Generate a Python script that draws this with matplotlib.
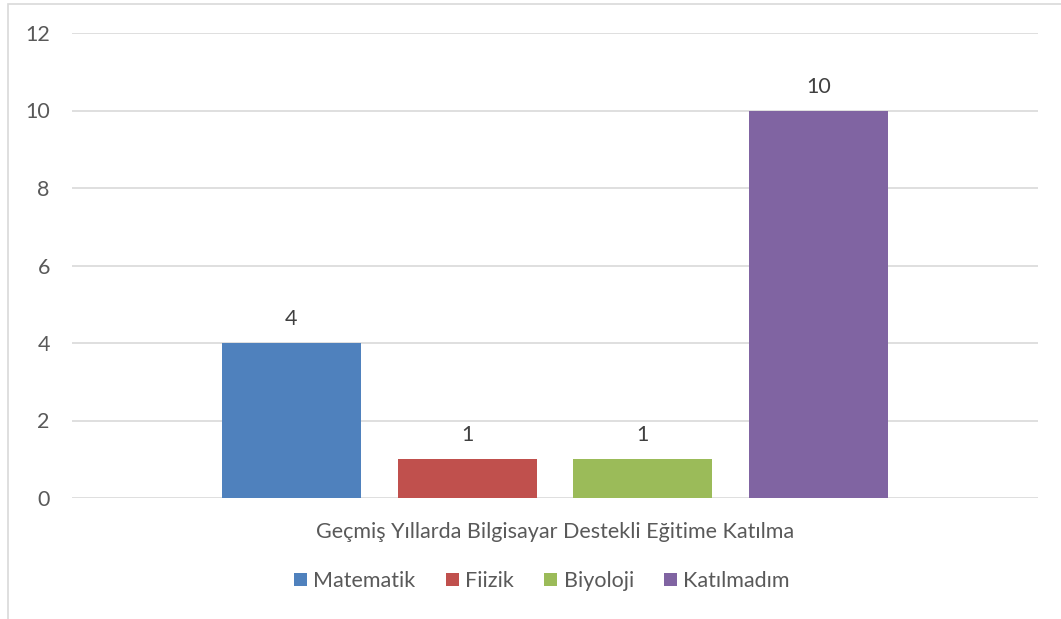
import matplotlib
matplotlib.use("Agg")
import matplotlib.pyplot as plt
from matplotlib.patches import Rectangle, Patch
import numpy as np

category = "Geçmiş Yıllarda Bilgisayar Destekli Eğitime Katılma"
series = ["Matematik", "Fiizik", "Biyoloji", "Katılmadım"]
values = [4, 1, 1, 10]
colors = ["#4F81BD", "#C0504D", "#9BBB59", "#8064A2"]
yticks = [0, 2, 4, 6, 8, 10, 12]

plt.rcParams['font.family'] = ['Lato', 'DejaVu Sans']
FS = 15.5

W, H = 1061, 619
fig = plt.figure(figsize=(W / 100, H / 100), dpi=100)
ax = fig.add_axes([72 / W, 1 - 498 / H, (1038 - 72) / W, (498 - 33) / H])

step = 0.1819
width = 0.1439
n = len(series)
for i, (s, v, c) in enumerate(zip(series, values, colors)):
    x = (i - (n - 1) / 2) * step
    ax.bar(x, v, width=width, color=c, label=s, zorder=3)
    ax.annotate(str(v), (x, v), xytext=(0, 10), textcoords='offset points',
                ha='center', va='bottom', fontsize=FS, color='#404040')

ax.set_xlim(-0.5, 0.5)
ax.set_ylim(0, 12)
ax.set_yticks(yticks)
ax.set_yticklabels([str(t) for t in yticks])
ax.yaxis.grid(True, color='#D9D9D9', lw=1.2, zorder=0)
ax.set_axisbelow(True)
for sp in ax.spines.values():
    sp.set_visible(False)
ax.tick_params(axis='y', length=0, pad=16, labelsize=FS, labelcolor='#595959')
ax.set_xticks([0])
ax.set_xticklabels([category])
ax.tick_params(axis='x', length=0, pad=17, labelsize=FS, labelcolor='#595959')

handles = [Patch(facecolor=c, label=s) for s, c in zip(series, colors)]
leg = fig.legend(handles=handles, loc='center', ncol=4,
                 bbox_to_anchor=(542 / W, 1 - 581 / H), frameon=False,
                 handlelength=0.6, handleheight=0.6, handletextpad=0.3,
                 columnspacing=1.4, fontsize=FS)
for t in leg.get_texts():
    t.set_color('#595959')

fig.patches.append(Rectangle((8 / W, -0.1), 1.2, (1 - 4 / H) + 0.1,
                             transform=fig.transFigure, fill=False,
                             edgecolor='#D9D9D9', lw=1.2))

fig.savefig("out.png", dpi=100, facecolor='white')
